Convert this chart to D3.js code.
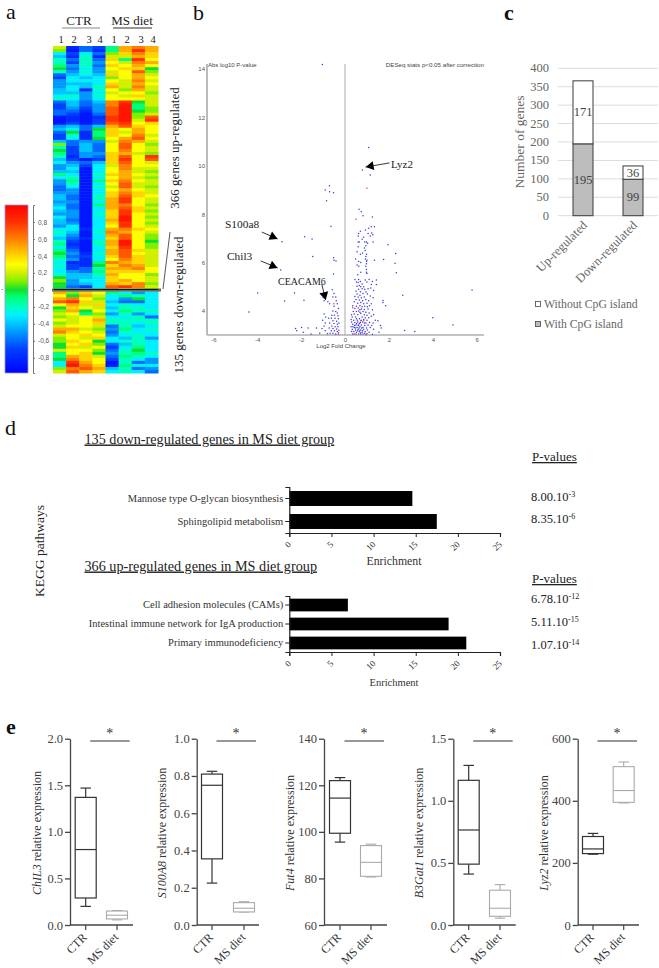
<!DOCTYPE html>
<html>
<head>
<meta charset="utf-8">
<script src="https://cdn.jsdelivr.net/npm/d3@7"></script>
<style>
  html, body { margin: 0; padding: 0; background: #fff; }
  svg { display: block; font-family: "Liberation Serif", serif; }
</style>
</head>
<body>
<div id="fig"></div>
<script>
const width = 659;
const height = 968;

// ----------------------------------------------------
// a: heatmap values, tenths of the colour scale, one row per band
// ----------------------------------------------------
const heatColumns = ["CTR 1", "CTR 2", "CTR 3", "CTR 4", "MS 1", "MS 2", "MS 3", "MS 4"];
const heatLabels = ["1", "2", "3", "4", "1", "2", "3", "4"];
const heatTicks = [0.8, 0.6, 0.4, 0.2, 0, -0.2, -0.4, -0.6, -0.8];
const heatRows = [
  [2,-8,-6,-7,-1,5,6,5],[1,-9,-6,-8,-1,5,8,5],[-3,-7,-3,-6,1,4,6,4],[-4,-8,-2,-8,2,2,5,4],
  [-2,-6,-2,-6,4,-1,8,3],[-2,-7,-2,-5,3,2,6,5],[-1,-5,-2,-6,4,3,5,3],[0,-6,-3,-5,3,4,4,0],
  [-2,-5,-2,-5,2,3,7,1],[-6,-4,-3,-4,4,3,5,2],[-7,-3,-4,-3,1,3,5,3],[-5,-3,-3,-3,3,2,6,2],
  [-5,-4,-4,-3,4,2,5,3],[-5,-3,-4,-2,5,2,6,2],[-4,-3,-8,-2,3,1,5,2],[-4,-4,-5,-3,2,3,3,1],
  [-3,-2,-5,-2,3,2,4,2],[-2,-3,-5,-3,3,3,3,2],[-6,-4,-6,-4,6,8,0,2],[-7,-4,-6,-5,6,9,-1,2],
  [-7,-5,-7,-5,7,9,-1,1],[-6,-6,-8,-5,7,9,0,1],[-6,-7,-9,-6,7,9,1,2],[-9,-8,-9,-8,8,9,1,7],
  [-9,-8,-9,-7,8,9,2,8],[-9,-7,-9,-7,7,8,3,4],[-5,-4,-6,-4,5,7,4,3],[-4,-3,-6,0,4,3,5,3],
  [-6,0,-8,-1,4,2,5,3],[-7,-2,-8,-1,4,3,6,2],[-7,-3,-8,0,3,5,7,3],[-4,-6,-5,-5,2,6,5,2],
  [1,-6,-4,-6,3,7,3,1],[-2,-7,-4,-6,3,7,3,2],[0,-7,-4,-6,3,6,3,2],[-1,-7,-5,-5,4,5,2,1],
  [-2,-8,-5,-6,4,7,3,8],[-4,-7,-9,-7,4,8,3,7],[-3,-5,-6,-4,4,7,3,2],[-5,-4,-7,-3,2,6,3,3],
  [-5,-3,-9,-3,3,6,2,2],[-4,-4,-9,-3,3,5,2,1],[-1,-3,-9,-2,4,5,3,2],[-3,-2,-9,-3,3,5,2,1],
  [-5,-1,-9,-1,4,6,3,2],[-5,-2,-9,-3,3,7,2,2],[-6,-3,-9,-2,2,7,2,1],[-6,-5,-9,-3,3,5,3,2],
  [-5,-5,-9,-3,4,6,4,2],[-4,-6,-9,-2,4,7,4,3],[-4,-6,-9,-2,5,8,3,2],[-5,-5,-9,-3,5,8,3,2],
  [-4,-6,-9,-1,5,6,3,1],[-3,-6,-9,-3,5,7,4,2],[-4,-5,-9,-3,4,8,4,1],[-5,-5,-9,-2,4,8,3,2],
  [-3,-5,-9,-3,4,9,3,1],[-4,-6,-9,-3,5,9,3,2],[-4,-5,-9,-3,4,8,3,1],[-5,-3,-9,-3,3,8,3,2],
  [-3,-3,-8,-3,5,6,4,3],[-2,-4,-9,-2,6,5,3,2],[-3,-5,-9,-3,5,7,3,1],[-4,-6,-8,-3,4,7,3,1],
  [-2,-7,-9,-2,5,9,3,0],[-1,-8,-9,-2,5,9,3,1],[-3,-7,-9,-3,4,8,3,1],[-1,-6,-9,-3,5,7,4,2],
  [0,-5,-8,-2,5,7,3,2],[-1,-6,-7,-3,4,7,4,2],[-2,-5,-8,-3,3,6,4,2],[-3,-8,-8,-1,6,5,4,2],
  [-2,-7,-8,0,4,6,5,2],[-3,-7,-6,-2,5,5,6,3],[-3,-5,-6,-1,4,4,4,3],[-2,-4,-4,-2,5,3,3,1],
  [0,-4,-4,-3,4,3,3,2],[1,-5,-3,-3,4,5,3,2],[0,-5,-4,-3,5,4,6,1],[0,-6,-7,-3,7,8,6,2],
  [-1,-4,-4,-3,6,3,2,1],
  [5,1,4,3,-1,-3,-5,-3],[3,0,5,2,-3,-1,-2,-3],[5,6,3,1,-3,-5,0,-3],[7,8,4,2,-4,-6,-6,-3],
  [3,5,2,4,-3,-2,-3,-3],[0,4,3,2,-4,-2,-2,-3],[1,5,0,3,-3,-1,-2,-2],[2,3,-1,1,-5,-2,-5,-3],
  [1,2,3,2,-3,-3,-2,-6],[3,2,3,5,-2,-2,-2,-2],[1,2,3,4,-2,-2,-3,-2],[2,3,3,2,-6,-2,-4,-3],
  [5,5,2,1,-5,-1,-3,-2],[6,4,3,2,-6,-2,-3,-3],[2,3,4,3,-5,-3,-2,-3],[1,3,2,4,-3,-4,-2,-5],
  [1,4,3,0,-3,-2,-2,-3],[0,3,4,1,-6,-4,-2,-3],[0,4,2,3,-7,-3,-1,-3],[2,3,3,1,-6,-2,0,-3],
  [-1,3,4,0,-5,-2,-1,-2],[-1,5,4,2,-6,-1,-2,-3],[0,6,4,3,-7,-2,-3,-5],[-3,8,5,3,-9,-2,-6,-5],
  [-3,9,6,4,-9,-1,-3,-3],[1,6,7,5,-4,-2,-6,-5],[2,7,5,4,-3,-2,-3,-6]
];

// ----------------------------------------------------
// b: volcano points, [log2 fold change, abs log10 p]
// ----------------------------------------------------
const volcanoXTicks = [-6, -4, -2, 0, 2, 4, 6];
const volcanoYTicks = [4, 6, 8, 10, 12, 14];
const volcanoBlue = [
  [-1.03,14.19],[1.08,10.76],[0.79,9.83],[1.15,9.62],[-0.71,9.18],[-0.9,9.0],[-0.7,8.93],[-0.52,8.89],[-0.84,8.56],
  [-0.64,7.5],[-1.84,7.07],[-1.5,6.98],[-2.87,6.86],[-1.47,6.25],[-2.93,5.69],[-0.52,6.2],[-0.5,6.1],[-0.41,6.07],
  [-0.52,5.53],[-3.98,4.74],[-2.75,4.41],[-2.3,4.74],[-1.87,4.44],[-4.38,3.96],[5.79,4.87],[2.63,4.65],[4,3.72],
  [4.92,3.42],[2.72,3.19],[3.18,3.15],[1.96,6.74],[2.31,6.38],[2.28,5.97],[2.34,5.58],[1.76,6.13],[1.34,6.1],
  [1.43,5.28],[1.43,5.1],[1.73,4.43],[1.85,4.22],[1.73,4.35],[1.5,3.6],[1.62,3.4],[1.65,3.3],[1.55,3.12],
  // right cluster
  [0.64,8.2],[0.74,8.1],[0.82,7.94],[1.25,7.88],[1.2,7.48],[1.34,7.48],[1.08,7.42],[0.93,7.35],[0.7,7.3],[1.22,7.22],
  [1.27,7.15],[1.05,7.2],[0.62,7.2],[0.6,7.1],[0.85,7.05],[1.15,7.1],[0.78,6.97],[0.6,6.85],[0.65,6.85],[0.9,6.85],
  [0.98,6.85],[1.03,6.8],[1.28,6.85],[0.95,6.7],[0.88,6.6],[0.92,6.5],[0.6,6.65],[0.55,6.45],[0.8,6.4],[0.7,6.35],
  [0.98,6.35],[0.95,6.25],[0.48,6.15],[0.62,6.05],[0.72,6.0],[0.93,6.15],[0.98,6.05],[1.0,6.1],[0.98,5.95],[0.55,5.9],
  [0.63,5.85],[0.95,5.85],[0.98,5.72],[0.98,5.6],[0.72,5.6],[0.58,5.5],[0.62,5.3],[1.0,5.55],[0.45,5.3],[0.52,5.2],
  [0.6,5.18],[0.7,5.22],[0.78,5.12],[0.92,5.28],[1.1,5.3],[1.0,5.2],[0.65,5.05],[0.55,5.02],[0.72,5.0],[0.85,5.0],
  [1.25,5.22],[1.2,5.1],[0.62,4.9],[0.78,4.92],[0.9,4.9],[1.05,4.92],[1.18,4.95],[1.3,4.85],[0.5,4.82],[0.7,4.8],
  [0.95,4.78],[0.55,4.7],[0.68,4.65],[0.82,4.72],[1.02,4.7],[1.15,4.62],[0.45,4.6],[0.6,4.58],[0.75,4.55],[0.88,4.58],
  [1.28,4.55],[0.5,4.48],[0.65,4.45],[0.8,4.42],[0.95,4.48],[1.08,4.42],[0.42,4.38],[0.58,4.32],[0.72,4.35],[0.85,4.3],
  [1.0,4.32],[1.2,4.3],[0.35,4.22],[0.52,4.2],[0.68,4.22],[0.78,4.18],[0.9,4.2],[1.02,4.18],[1.12,4.22],[0.45,4.1],
  [0.6,4.12],[0.75,4.08],[0.88,4.06],[1.05,4.08],[1.25,4.05],[0.38,3.98],[0.52,3.98],[0.68,3.95],[0.82,3.98],[0.95,3.95],
  [1.1,3.92],[0.3,3.85],[0.42,3.88],[0.58,3.85],[0.72,3.9],[0.88,3.85],[1.0,3.82],[1.3,3.85],[0.33,3.75],[0.48,3.75],
  [0.78,3.75],[0.92,3.72],[1.08,3.72],[1.2,3.78],[0.28,3.65],[0.4,3.62],[0.52,3.68],[0.85,3.65],[1.0,3.62],[1.38,3.62],
  [0.3,3.55],[0.45,3.52],[0.58,3.55],[0.7,3.52],[0.8,3.55],[0.95,3.5],[1.12,3.52],[1.28,3.5],[0.35,3.45],[0.5,3.42],
  [0.62,3.42],[0.75,3.42],[0.9,3.4],[1.05,3.42],[1.22,3.4],[0.28,3.35],[0.42,3.32],[0.55,3.32],[0.68,3.35],[0.82,3.32],
  [0.98,3.3],[1.15,3.32],[0.33,3.25],[0.48,3.22],[0.6,3.25],[0.72,3.22],[0.85,3.25],[1.02,3.22],[1.3,3.25],[0.3,3.15],
  [0.4,3.15],[0.52,3.12],[0.65,3.15],[0.78,3.12],[0.92,3.15],[1.1,3.12],[0.35,3.05],[0.5,3.05],[0.62,3.05],[0.72,3.05],
  [0.82,3.05],[1.0,3.06],[1.25,3.04],[0.44,3.4],[0.56,3.62],[0.66,3.68],[0.74,3.62],[0.57,3.18],[0.64,3.3],[0.7,3.1],
  [0.47,3.3],[0.8,3.18],[0.88,3.5],[0.66,3.48],[0.53,3.48],[0.36,3.35],[0.9,3.08],[0.6,3.4],[0.76,3.3],[0.68,4.05],
  // left cluster
  [-1.1,4.72],[-1.0,4.55],[-0.95,4.42],[-0.78,4.38],[-0.7,4.3],[-0.58,4.88],[-0.5,4.72],[-0.42,4.58],[-0.55,4.58],
  [-0.4,4.42],[-0.35,4.3],[-0.5,4.2],[-0.3,4.1],[-0.55,4.0],[-0.42,3.98],[-0.35,3.92],[-0.95,3.88],[-0.6,3.82],
  [-0.48,3.82],[-0.32,3.8],[-0.88,3.75],[-0.75,3.7],[-0.62,3.7],[-0.45,3.7],[-0.3,3.68],[-1.02,3.62],[-0.55,3.6],
  [-0.38,3.58],[-0.9,3.5],[-0.7,3.5],[-0.5,3.48],[-0.35,3.45],[-0.28,3.5],[-0.95,3.38],[-0.6,3.38],[-0.45,3.35],
  [-0.32,3.35],[-2.25,3.28],[-1.98,3.32],[-1.68,3.3],[-1.3,3.3],[-1.05,3.28],[-0.72,3.3],[-0.55,3.28],[-0.38,3.26],
  [-2.2,3.18],[-1.9,3.12],[-0.9,3.18],[-0.62,3.18],[-0.48,3.18],[-0.35,3.15],[-0.28,3.2],[-1.55,3.05],[-1.15,3.08],
  [-0.8,3.06],[-0.68,3.08],[-0.55,3.08],[-0.42,3.05],[-0.3,3.05]
];
const volcanoRed = [
  [1.0,9.07],[0.5,7.79],[0.35,4.13],[0.62,4.0],[0.72,3.6],[0.85,3.6],[0.68,3.2],[-0.5,4.3],[-0.3,3.1],[0.42,3.05],[0.95,3.02]
];
const volcanoNotes = [
  { label: "Lyz2", size: 11, at: [391, 164], from: [2.03, 10.12], to: [0.94, 9.95] },
  { label: "S100a8", size: 11.4, at: [225, 224], from: [-3.79, 7.26], to: [-3.07, 6.98] },
  { label: "Chil3", size: 11.4, at: [227, 256], from: [-3.84, 6.07], to: [-3.07, 5.78] },
  { label: "CEACAM6", size: 10, at: [278, 281], from: [-1.06, 5.12], to: [-0.88, 4.45] }
];

// ----------------------------------------------------
// c: stacked bars
// ----------------------------------------------------
const cpgCategories = ["Up-regulated", "Down-regulated"];
const withCpG = [195, 99];
const withoutCpG = [171, 36];
const cpgTicks = [0, 50, 100, 150, 200, 250, 300, 350, 400];

// ----------------------------------------------------
// d: KEGG enrichment
// ----------------------------------------------------
const downPathways = ["Mannose type O-glycan biosynthesis", "Sphingolipid metabolism"];
const downEnrichment = [14.6, 17.5];
const downPValues = [["8.00.10", "-3"], ["8.35.10", "-6"]];
const upPathways = ["Cell adhesion molecules (CAMs)", "Intestinal immune network for IgA production", "Primary immunodeficiency"];
const upEnrichment = [6.95, 18.9, 21];
const upPValues = [["6.78.10", "-12"], ["5.11.10", "-15"], ["1.07.10", "-14"]];
const enrichTicks = [0, 5, 10, 15, 20, 25];

// ----------------------------------------------------
// e: box plots, [low, q1, median, q3, high]
// ----------------------------------------------------
const geneNames = ["ChIL3", "S100A8", "Fut4", "B3Gat1", "Lyz2"];
const groupNames = ["CTR", "MS diet"];
const ctrBoxes = [
  [0.2, 0.29, 0.81, 1.37, 1.47],
  [0.225, 0.355, 0.75, 0.81, 0.825],
  [95.6, 99.4, 114.5, 122, 123.3],
  [0.41, 0.49, 0.765, 1.165, 1.285],
  [228, 230, 245, 285, 295]
];
const msBoxes = [
  [0.055, 0.065, 0.105, 0.15, 0.155],
  [0.07, 0.07, 0.09, 0.12, 0.125],
  [80.6, 80.9, 86.9, 94.1, 94.7],
  [0.055, 0.07, 0.135, 0.28, 0.325],
  [393, 395, 433, 510, 525]
];
const geneTicks = [
  [0, 0.5, 1, 1.5, 2],
  [0, 0.2, 0.4, 0.6, 0.8, 1],
  [60, 80, 100, 120, 140],
  [0, 0.5, 1, 1.5],
  [0, 200, 400, 600]
];
const geneTickFormats = [".1f", ".1f", "d", ".1f", "d"];

const svg = d3.select("#fig").append("svg").attr("width", width).attr("height", height);

const defs = svg.append("defs");
defs.append("filter").attr("id", "soft").append("feGaussianBlur").attr("stdDeviation", 0.55);
defs.append("filter").attr("id", "softer").append("feGaussianBlur").attr("stdDeviation", 0.3);

// panel letters
const letters = [["a", 6, 19, "normal"], ["b", 193, 20, "normal"], ["c", 504, 20, "bold"], ["d", 5, 435, "normal"], ["e", 6, 734, "bold"]];
svg.selectAll("text.letter").data(letters).join("text")
  .attr("class", "letter")
  .attr("x", d => d[1]).attr("y", d => d[2])
  .attr("font-size", 22).attr("font-weight", d => d[3]).attr("fill", "#111")
  .text(d => d[0]);

// ----------------------------------------------------
// a: heatmap
// ----------------------------------------------------
const heatColor = d3.scaleLinear()
  .domain([-1, -0.7, -0.5, -0.3, -0.2, -0.08, 0, 0.1, 0.2, 0.3, 0.45, 0.6, 0.8, 1])
  .range(["#0000ff", "#0040ff", "#0098ff", "#00f0ff", "#00ffc0", "#00ff70", "#10e030", "#80f000", "#d0f000", "#ffff00", "#ffc000", "#ff8000", "#ff3000", "#ff0000"]);

const heatX = d3.scaleBand().domain(d3.range(heatColumns.length)).range([53, 158]);
const heatY = d3.scaleBand().domain(d3.range(heatRows.length)).range([46, 373]);

const heatG = svg.append("g").attr("filter", "url(#soft)");
heatRows.forEach((row, i) => {
  heatG.selectAll(null).data(row).join("rect")
    .attr("x", (d, j) => heatX(j))
    .attr("y", heatY(i))
    .attr("width", heatX.bandwidth() + 0.5)
    .attr("height", heatY.bandwidth() + 0.5)
    .attr("fill", d => heatColor(d / 10));
});

svg.selectAll("text.hcol").data(heatLabels).join("text")
  .attr("class", "hcol")
  .attr("x", (d, i) => [61, 74, 89, 100, 114, 127, 141, 153][i])
  .attr("y", 43).attr("text-anchor", "middle").attr("font-size", 10.5).attr("fill", "#222")
  .text(d => d);

const groupHeads = [["CTR", 79, 62, 100, "#888"], ["MS diet", 132, 113, 152, "#333"]];
svg.selectAll("text.hgrp").data(groupHeads).join("text")
  .attr("class", "hgrp")
  .attr("x", d => d[1]).attr("y", 25).attr("text-anchor", "middle").attr("font-size", 13).attr("fill", "#222")
  .text(d => d[0]);
svg.selectAll("line.hgrp").data(groupHeads).join("line")
  .attr("class", "hgrp")
  .attr("x1", d => d[2]).attr("x2", d => d[3]).attr("y1", 28).attr("y2", 28)
  .attr("stroke", d => d[4]).attr("stroke-width", 1.2);

svg.append("line").attr("x1", 52).attr("x2", 161).attr("y1", 290).attr("y2", 290).attr("stroke", "#666").attr("stroke-width", 3);
svg.append("line").attr("x1", 54).attr("x2", 158).attr("y1", 289.5).attr("y2", 289.5).attr("stroke", "#111").attr("stroke-width", 1);
svg.append("line").attr("x1", 163).attr("y1", 289).attr("x2", 170).attr("y2", 232).attr("stroke", "#444").attr("stroke-width", 0.9);

svg.append("text").attr("transform", "translate(179,148) rotate(-90)")
  .attr("text-anchor", "middle").attr("font-size", 13).attr("fill", "#222").text("366 genes up-regulated");
svg.append("text").attr("transform", "translate(183,305) rotate(-90)")
  .attr("text-anchor", "middle").attr("font-size", 13).attr("fill", "#222").text("135 genes down-regulated");

// colour key
const heatKeyY = d3.scaleLinear().domain([-0.98, 1]).range([373, 205]);
const grad = defs.append("linearGradient").attr("id", "heatKey").attr("x1", 0).attr("x2", 0).attr("y1", 1).attr("y2", 0);
grad.selectAll("stop").data(heatColor.domain()).join("stop")
  .attr("offset", d => (d + 0.98) / 1.98 < 0 ? 0 : (d + 0.98) / 1.98)
  .attr("stop-color", d => heatColor(d));
svg.append("rect").attr("x", 5).attr("y", 205).attr("width", 23).attr("height", 168)
  .attr("fill", "url(#heatKey)").attr("stroke", "#9a9ad8").attr("stroke-width", 0.8);
svg.append("text").attr("x", 1).attr("y", 291).attr("font-size", 7).attr("font-family", "'Liberation Sans', sans-serif").attr("fill", "#555").text("-");

const heatAxis = svg.append("g").attr("transform", "translate(33,0)")
  .call(d3.axisRight(heatKeyY).tickValues(heatTicks).tickSize(2).tickPadding(3)
    .tickFormat(d => d === 0 ? "-0" : d3.format(".1f")(d).replace(".", ",").replace("−", "-")));
heatAxis.select(".domain").attr("stroke", "#777").attr("stroke-width", 1);
heatAxis.selectAll("line").attr("stroke", "#777");
heatAxis.selectAll("text").attr("font-size", 6.5).attr("font-family", "'Liberation Sans', sans-serif").attr("fill", "#555");

// ----------------------------------------------------
// b: volcano
// ----------------------------------------------------
const volX = d3.scaleLinear().domain([-6, 6]).range([213.3, 476.7]);
const volY = d3.scaleLinear().domain([4, 14]).range([311, 69]);
const volSans = "'Liberation Sans', sans-serif";
const volBottom = 335;

const volXAxis = svg.append("g").attr("transform", `translate(0,${volBottom})`)
  .call(d3.axisBottom(volX).tickValues(volcanoXTicks).tickSize(0).tickPadding(3).tickFormat(d => d3.format("d")(d).replace("−", "-")));
volXAxis.select(".domain").remove();
volXAxis.selectAll("text").attr("font-size", 6).attr("font-family", volSans).attr("fill", "#555");
svg.append("line").attr("x1", 207).attr("x2", 484).attr("y1", volBottom).attr("y2", volBottom).attr("stroke", "#888").attr("stroke-width", 1.2);

const volYAxis = svg.append("g").attr("transform", "translate(207,0)")
  .call(d3.axisLeft(volY).tickValues(volcanoYTicks).tickSize(0).tickPadding(2));
volYAxis.select(".domain").remove();
volYAxis.selectAll("text").attr("font-size", 6).attr("font-family", volSans).attr("fill", "#555");
svg.append("line").attr("x1", 207).attr("x2", 207).attr("y1", 64).attr("y2", volBottom).attr("stroke", "#aaa").attr("stroke-width", 1.6);
svg.append("line").attr("x1", volX(0)).attr("x2", volX(0)).attr("y1", 64).attr("y2", volBottom).attr("stroke", "#aaa").attr("stroke-width", 1);

svg.append("text").attr("x", 208).attr("y", 67).attr("font-size", 6).attr("font-family", volSans).attr("fill", "#444").text("Abs log10 P-value");
svg.append("text").attr("x", 484).attr("y", 67).attr("text-anchor", "end").attr("font-size", 6.2).attr("font-family", volSans).attr("fill", "#444").text("DESeq stats p<0.05 after correction");
svg.append("text").attr("x", 341).attr("y", 348).attr("text-anchor", "middle").attr("font-size", 6).attr("font-family", volSans).attr("fill", "#444").text("Log2 Fold Change");

const pointG = svg.append("g").attr("filter", "url(#softer)");
pointG.append("g").selectAll("circle").data(volcanoBlue).join("circle")
  .attr("cx", d => volX(d[0])).attr("cy", d => volY(d[1])).attr("r", 0.75).attr("fill", "#3c3ce0");
pointG.append("g").selectAll("circle").data(volcanoRed).join("circle")
  .attr("cx", d => volX(d[0])).attr("cy", d => volY(d[1])).attr("r", 0.75).attr("fill", "#e03050");

const noteG = svg.append("g").selectAll("g").data(volcanoNotes).join("g");
noteG.append("text").attr("x", d => d.at[0]).attr("y", d => d.at[1] + 4)
  .attr("font-size", d => d.size).attr("fill", "#222").text(d => d.label);
noteG.append("line")
  .attr("x1", d => volX(d.from[0])).attr("y1", d => volY(d.from[1]))
  .attr("x2", d => volX(d.to[0])).attr("y2", d => volY(d.to[1]))
  .attr("stroke", "#222").attr("stroke-width", 0.9);
noteG.append("path").attr("fill", "#000").attr("d", d => {
  const x1 = volX(d.from[0]), y1 = volY(d.from[1]), x2 = volX(d.to[0]), y2 = volY(d.to[1]);
  const a = Math.atan2(y2 - y1, x2 - x1);
  const back = 8, half = 4.5;
  const bx = x2 - back * Math.cos(a), by = y2 - back * Math.sin(a);
  return `M${x2},${y2}L${bx - half * Math.sin(a)},${by + half * Math.cos(a)}L${bx + half * Math.sin(a)},${by - half * Math.cos(a)}Z`;
});

// ----------------------------------------------------
// c: stacked bars
// ----------------------------------------------------
const cpgY = d3.scaleLinear().domain([0, 400]).range([215.7, 68.3]);
const cpgX = d3.scaleBand().domain(cpgCategories).range([558, 658]).paddingInner(0.6).paddingOuter(0.3);
const cpgGrey = "#666";

svg.append("g").selectAll("line").data(cpgTicks).join("line")
  .attr("x1", 558).attr("x2", 658).attr("y1", d => cpgY(d)).attr("y2", d => cpgY(d))
  .attr("stroke", "#dcdcdc").attr("stroke-width", 1);
svg.append("g").selectAll("text").data(cpgTicks).join("text")
  .attr("x", 549).attr("y", d => cpgY(d) + 4).attr("text-anchor", "end")
  .attr("font-size", 12.5).attr("fill", cpgGrey).text(d => d);

svg.append("text").attr("transform", "translate(524,142) rotate(-90)")
  .attr("text-anchor", "middle").attr("font-size", 13.5).attr("fill", cpgGrey).text("Number of genes");

const barStroke = "#3a3a3a";
svg.append("g").selectAll("rect").data(withCpG).join("rect")
  .attr("x", (d, i) => cpgX(cpgCategories[i])).attr("width", cpgX.bandwidth())
  .attr("y", d => cpgY(d)).attr("height", d => cpgY(0) - cpgY(d))
  .attr("fill", "#bdbdbd").attr("stroke", barStroke).attr("stroke-width", 1);
svg.append("g").selectAll("rect").data(withoutCpG).join("rect")
  .attr("x", (d, i) => cpgX(cpgCategories[i])).attr("width", cpgX.bandwidth())
  .attr("y", (d, i) => cpgY(d + withCpG[i])).attr("height", d => cpgY(0) - cpgY(d))
  .attr("fill", "#fff").attr("stroke", barStroke).attr("stroke-width", 1);
svg.append("g").selectAll("text").data(withCpG).join("text")
  .attr("x", (d, i) => cpgX(cpgCategories[i]) + cpgX.bandwidth() / 2).attr("y", d => cpgY(d / 2) + 4)
  .attr("text-anchor", "middle").attr("font-size", 12.5).attr("fill", "#444").text(d => d);
svg.append("g").selectAll("text").data(withoutCpG).join("text")
  .attr("x", (d, i) => cpgX(cpgCategories[i]) + cpgX.bandwidth() / 2).attr("y", (d, i) => cpgY(withCpG[i] + d / 2) + 4)
  .attr("text-anchor", "middle").attr("font-size", 12.5).attr("fill", "#444").text(d => d);
svg.append("g").selectAll("text").data(cpgCategories).join("text")
  .attr("transform", d => `translate(${cpgX(d) + cpgX.bandwidth() / 2 + 5},226) rotate(-45)`)
  .attr("text-anchor", "end").attr("font-size", 12.5).attr("fill", cpgGrey).text(d => d);

const cpgLegend = [["Without CpG island", "#fff", 304], ["With CpG island", "#bdbdbd", 324]];
svg.append("g").selectAll("rect").data(cpgLegend).join("rect")
  .attr("x", 535.5).attr("y", d => d[2] - 2.5).attr("width", 5).attr("height", 5)
  .attr("fill", d => d[1]).attr("stroke", "#444").attr("stroke-width", 0.8);
svg.append("g").selectAll("text").data(cpgLegend).join("text")
  .attr("x", 544).attr("y", d => d[2] + 4).attr("font-size", 11.7).attr("fill", cpgGrey).text(d => d[0]);

// ----------------------------------------------------
// d: KEGG panels
// ----------------------------------------------------
const enrichX = d3.scaleLinear().domain([0, 25]).range([289.3, 500]);

function drawEnrichment(names, values, pvals, opts) {
  const y = d3.scaleBand().domain(names).range([opts.top, opts.bottom]).paddingInner(opts.gap).paddingOuter(opts.outer);
  const g = svg.append("g");
  g.selectAll("rect").data(values).join("rect")
    .attr("x", enrichX(0)).attr("y", (d, i) => y(names[i])).attr("height", y.bandwidth())
    .attr("width", d => enrichX(d) - enrichX(0)).attr("fill", "#000");

  const yAxis = g.append("g").attr("transform", "translate(289.3,0)")
    .call(d3.axisLeft(y).tickSize(4).tickPadding(2));
  yAxis.select(".domain").attr("stroke", "#222").attr("stroke-width", 1.2);
  yAxis.selectAll("line").attr("stroke", "#222");
  yAxis.selectAll("text").attr("font-size", 10.5).attr("font-family", "'Liberation Serif', serif").attr("fill", "#333");

  const xAxis = g.append("g").attr("transform", `translate(0,${opts.bottom})`)
    .call(d3.axisBottom(enrichX).tickValues(enrichTicks).tickSize(4));
  xAxis.select(".domain").attr("stroke", "#222").attr("stroke-width", 1.2);
  xAxis.selectAll("line").attr("stroke", "#222");
  xAxis.selectAll("text")
    .attr("y", 0).attr("dy", 0)
    .attr("transform", "translate(2,12) rotate(-45)").attr("text-anchor", "end")
    .attr("font-size", 9).attr("font-family", "'Liberation Serif', serif").attr("fill", "#333");

  g.append("text").attr("x", 394).attr("y", opts.enrichY + 4).attr("text-anchor", "middle")
    .attr("font-size", opts.enrichSize).attr("fill", "#333").text("Enrichment");

  g.append("text").attr("x", 84.5).attr("y", opts.titleY).attr("font-size", 14.2)
    .attr("text-decoration", "underline").attr("fill", "#222").text(opts.title);
  g.append("text").attr("x", 532).attr("y", opts.pHeadY).attr("font-size", 13)
    .attr("text-decoration", "underline").attr("fill", "#222").text("P-values");

  const pt = g.selectAll("text.pval").data(pvals).join("text")
    .attr("class", "pval").attr("x", 531).attr("y", (d, i) => opts.pY[i] + 4)
    .attr("font-size", 12.5).attr("fill", "#222");
  pt.append("tspan").text(d => d[0]);
  pt.append("tspan").attr("font-size", 8).attr("dy", -4).text(d => d[1]);
}

drawEnrichment(downPathways, downEnrichment, downPValues, {
  top: 487, bottom: 533, gap: 0.35, outer: 0.175, title: "135 down-regulated genes in MS diet group",
  titleY: 443.5, pHeadY: 461, pY: [497, 519], enrichY: 561, enrichSize: 11.8
});
drawEnrichment(upPathways, upEnrichment, upPValues, {
  top: 596, bottom: 652, gap: 0.33, outer: 0.14, title: "366 up-regulated genes in MS diet group",
  titleY: 570.5, pHeadY: 583, pY: [599, 622, 645], enrichY: 682, enrichSize: 10.5
});

svg.append("text").attr("transform", "translate(44,551) rotate(-90)")
  .attr("text-anchor", "middle").attr("font-size", 13.5).attr("fill", "#222").text("KEGG pathways");

// ----------------------------------------------------
// e: box plots
// ----------------------------------------------------
const boxLayout = [
  { axisX: 70, ctrX: 85.7, msX: 117, endX: 133, labelX: 41 },
  { axisX: 196.7, ctrX: 212, msX: 244, endX: 259, labelX: 166 },
  { axisX: 324, ctrX: 340, msX: 371, endX: 387, labelX: 294 },
  { axisX: 453.3, ctrX: 468.7, msX: 500, endX: 515.7, labelX: 423 },
  { axisX: 577.7, ctrX: 593, msX: 623.7, endX: 639, labelX: 548 }
];
const boxTop = 738.7;
const boxBottom = 925;

function drawBox(g, stats, cx, y, color, sw) {
  const [low, q1, med, q3, high] = stats;
  const w = 10.5;
  g.append("line").attr("x1", cx).attr("x2", cx).attr("y1", y(low)).attr("y2", y(q1)).attr("stroke", color).attr("stroke-width", sw);
  g.append("line").attr("x1", cx).attr("x2", cx).attr("y1", y(q3)).attr("y2", y(high)).attr("stroke", color).attr("stroke-width", sw);
  g.append("line").attr("x1", cx - w / 2).attr("x2", cx + w / 2).attr("y1", y(low)).attr("y2", y(low)).attr("stroke", color).attr("stroke-width", sw);
  g.append("line").attr("x1", cx - w / 2).attr("x2", cx + w / 2).attr("y1", y(high)).attr("y2", y(high)).attr("stroke", color).attr("stroke-width", sw);
  g.append("rect").attr("x", cx - w).attr("width", w * 2).attr("y", y(q3)).attr("height", y(q1) - y(q3))
    .attr("fill", "#fff").attr("stroke", color).attr("stroke-width", sw);
  g.append("line").attr("x1", cx - w).attr("x2", cx + w).attr("y1", y(med)).attr("y2", y(med)).attr("stroke", color).attr("stroke-width", sw);
}

geneNames.forEach((gene, i) => {
  const lay = boxLayout[i];
  const ticks = geneTicks[i];
  const y = d3.scaleLinear().domain(d3.extent(ticks)).range([boxBottom, boxTop]);
  const g = svg.append("g");

  const yAxis = g.append("g").attr("transform", `translate(${lay.axisX},0)`)
    .call(d3.axisLeft(y).tickValues(ticks).tickSize(5).tickPadding(2).tickFormat(d3.format(geneTickFormats[i])).tickSizeOuter(0));
  yAxis.select(".domain").attr("stroke", "#444").attr("stroke-width", 1.3);
  yAxis.selectAll("line").attr("stroke", "#444").attr("stroke-width", 1.3);
  yAxis.selectAll("text").attr("font-size", 12.5).attr("font-family", "'Liberation Serif', serif").attr("fill", "#444");

  g.append("line").attr("x1", lay.axisX).attr("x2", lay.endX).attr("y1", boxBottom).attr("y2", boxBottom).attr("stroke", "#444").attr("stroke-width", 1.3);
  [lay.ctrX, lay.msX].forEach((x, k) => {
    g.append("line").attr("x1", x).attr("x2", x).attr("y1", boxBottom).attr("y2", boxBottom + 5).attr("stroke", "#444").attr("stroke-width", 1.2);
    g.append("text").attr("transform", `translate(${x + 2},${boxBottom + 13}) rotate(-45)`)
      .attr("text-anchor", "end").attr("font-size", 12).attr("fill", "#333").text(groupNames[k]);
  });

  drawBox(g, ctrBoxes[i], lay.ctrX, y, "#333", 1.2);
  drawBox(g, msBoxes[i], lay.msX, y, "#aaa", 1.1);

  g.append("line").attr("x1", lay.ctrX + 4.5).attr("x2", lay.ctrX + 44).attr("y1", 741).attr("y2", 741).attr("stroke", "#333").attr("stroke-width", 1.2);
  g.append("text").attr("x", lay.ctrX + 24).attr("y", 738).attr("text-anchor", "middle").attr("font-size", 14).attr("fill", "#333").text("*");

  const label = g.append("text").attr("transform", `translate(${lay.labelX},833) rotate(-90)`)
    .attr("text-anchor", "middle").attr("font-size", 12).attr("fill", "#333");
  label.append("tspan").attr("font-style", "italic").text(gene);
  label.append("tspan").text(" relative expression");
});
</script>
</body>
</html>
